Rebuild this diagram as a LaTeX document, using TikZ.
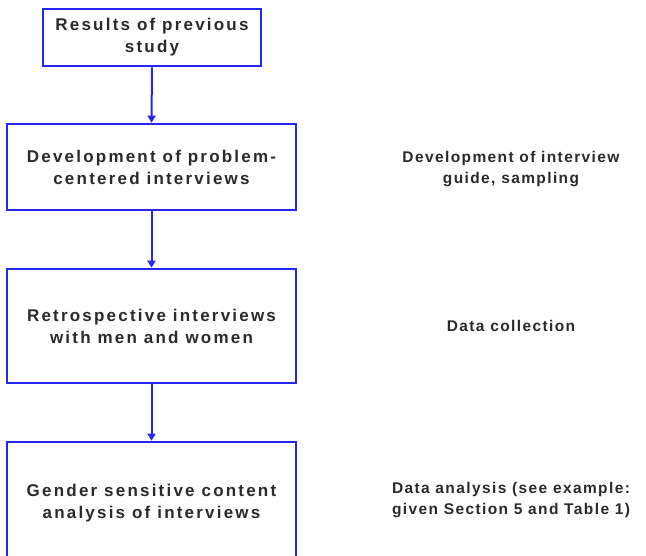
\documentclass[tikz,border=0pt]{standalone}
\usepackage{fontspec}
\setmainfont{Liberation Sans}
\newfontfamily\boxfont{Liberation Sans}[LetterSpace=13]
\newfontfamily\sidefont{Liberation Sans}[LetterSpace=9]
\usetikzlibrary{arrows.meta}
\definecolor{boxblue}{HTML}{2626F5}
\definecolor{txt}{HTML}{2A2A2A}
\begin{document}
\begin{tikzpicture}[x=1pt,y=-1pt,
  stepbox/.style={draw=boxblue, line width=2.6pt, fill=white, align=center, text=txt,
    font=\boxfont\bfseries\fontsize{17}{22}\selectfont, inner sep=0pt},
  side/.style={align=center, text=txt, font=\sidefont\bfseries\fontsize{15.5}{20.5}\selectfont, inner sep=0pt},
  conn/.style={color=boxblue, line width=2pt, -{Triangle[length=7pt,width=8pt]}}]
\useasboundingbox (0,0) rectangle (646,556);
\clip (0,0) rectangle (646,556);
\node[stepbox, minimum width=218pt, minimum height=57pt] (b1) at (152,37.5) {Results of previous\\study};
\node[stepbox, minimum width=289pt, minimum height=86pt] (b2) at (151.5,167) {Development of problem-\\centered interviews};
\node[stepbox, minimum width=289pt, minimum height=114pt] (b3) at (151.5,326) {Retrospective interviews\\with men and women};
\node[stepbox, minimum width=289pt, minimum height=122pt] (b4) at (151.5,503) {Gender sensitive content\\analysis of interviews};
\draw[conn] (b1.south) -- (b2.north);
\draw[conn] (b2.south) -- (b3.north);
\draw[conn] (b3.south) -- (b4.north);
\node[side] (r2) at (511,169) {Development of interview\\guide, sampling};
\node[side] (r3) at (511,325.5) {Data collection};
\node[side] (r4) at (511,500) {Data analysis (see example:\\given Section 5 and Table 1)};
\end{tikzpicture}
\end{document}
